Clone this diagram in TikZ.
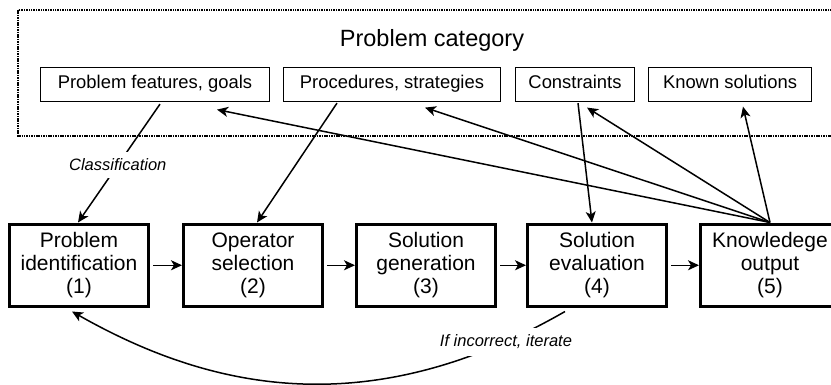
\documentclass[tikz,border=0pt]{standalone}
\usepackage{fontspec}
\setmainfont{Liberation Sans}
\usetikzlibrary{arrows.meta,calc}
\begin{document}
\begin{tikzpicture}[x=1pt,y=-1pt,
  cat/.style={draw, line width=1.2pt, inner sep=0pt, minimum height=34pt,
    text height=0.72em, text depth=0pt, font=\fontsize{18.4}{22}\selectfont},
  stage/.style={draw, line width=3pt, inner sep=0pt, minimum width=139pt,
    minimum height=82.5pt, align=center, font=\fontsize{21}{23}\selectfont},
  arr/.style={line width=1.5pt, -{Stealth[length=11pt,width=10pt,inset=3pt]}},
  lab/.style={fill=white, inner xsep=2pt, inner ysep=7pt,
    font=\fontsize{16.5}{18}\selectfont\itshape}
]
\clip (0,0) rectangle (831,384);
% category frame
\draw[line width=2.2pt, dash pattern=on 1.5pt off 0.9pt] (18,10) rectangle (870,136);
\node[anchor=base, inner sep=0pt, font=\fontsize{23.5}{26}\selectfont] (title) at (432,46.7) {Problem category};
\node[cat, minimum width=229pt] (pf) at (155,84.5) {Problem features, goals};
\node[cat, minimum width=217pt] (ps) at (392,84.5) {Procedures, strategies};
\node[cat, minimum width=119pt] (cs) at (575,84.5) {Constraints};
\node[cat, minimum width=163pt] (ks) at (730,84.5) {Known solutions};
% stages
\node[stage] (k1) at (79,265.25) {Problem\\identification\\(1)};
\node[stage] (k2) at (253,265.25) {Operator\\selection\\(2)};
\node[stage] (k3) at (426,265.25) {Solution\\generation\\(3)};
\node[stage] (k4) at (597,265.25) {Solution\\evaluation\\(4)};
\node[stage] (k5) at (770,265.25) {Knowledege\\output\\(5)};
% flow
\draw[arr, shorten <=3pt] (k1.east) -- (k2.west);
\draw[arr, shorten <=3pt] (k2.east) -- (k3.west);
\draw[arr, shorten <=3pt] (k3.east) -- (k4.west);
\draw[arr, shorten <=3pt] (k4.east) -- (k5.west);
% from category
\draw[arr] ($(pf.south)+(5,2)$) -- node[lab, pos=0.515] {Classification} ($(k1.north)+(-1,0)$);
\draw[arr] ($(ps.south)+(-55,1)$) -- ($(k2.north)+(4,0)$);
\draw[arr] ($(cs.south)+(3,1)$) -- ($(k4.north)+(-5,0)$);
% knowledge output back to category
\draw[arr] (k5.north) -- ($(pf.south)+(62,7.5)$);
\draw[arr] (k5.north) -- ($(ps.south)+(33,5.5)$);
\draw[arr] (k5.north) -- ($(cs.south)+(12,5.5)$);
\draw[arr] (k5.north) -- ($(ks.south)+(13,4.5)$);
% iterate
\draw[arr] ($(k4.south)+(-32,3.5)$) .. controls (364,427) and (205,387) ..
  node[lab, pos=0.1] {If incorrect, iterate} ($(k1.south)+(-7,3.5)$);
\end{tikzpicture}
\end{document}
